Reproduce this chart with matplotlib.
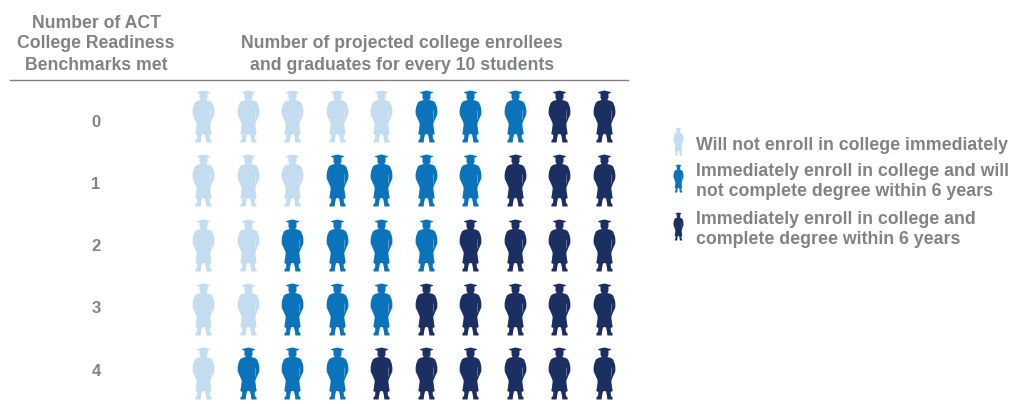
import numpy as np
import matplotlib
matplotlib.use("Agg")
import matplotlib.pyplot as plt
from matplotlib.path import Path

plt.rcParams['font.family'] = ['Liberation Sans', 'DejaVu Sans']

W, H = 1011, 404
benchmarks = ["0", "1", "2", "3", "4"]
not_enrolled = [5, 3, 2, 2, 1]
enrolled_no_degree = [3, 4, 4, 3, 3]
enrolled_degree = [2, 3, 4, 5, 6]
legend_labels = ["Will not enroll in college immediately",
                 "Immediately enroll in college and will\nnot complete degree within 6 years",
                 "Immediately enroll in college and\ncomplete degree within 6 years"]
colors = ["#C3DCEF", "#0A73BB", "#1B2F63"]
grey = "#808285"

# Graduate silhouette: half outline (x, y) with y measured downward from the cap
half = [(0, 0), (6.5, 1.6), (6.3, 2.4), (4.0, 3.2), (4.0, 7.5), (2.8, 9.5), (6.5, 10.5), (8.6, 12),
        (10.2, 16), (10.9, 20), (10.8, 24), (9.0, 28), (7.2, 32), (6.8, 34), (7.6, 40), (8.2, 43.5),
        (6.2, 44.5), (6.4, 48), (8.2, 50.4), (8.0, 52), (2.9, 52), (2.4, 48), (1.5, 44), (0, 43.5)]
right = np.array(half, float)
left = right[-2:0:-1] * [-1, 1]
outline = np.vstack([right, left, right[:1]])


def slit(sign):
    return np.array([(sign * 7.0, 20), (sign * 7.3, 20), (sign * 6.8, 29),
                     (sign * 6.5, 29), (sign * 7.0, 20)])


def graduate(xscale=1.0):
    parts = [outline, slit(1)[::-1], slit(-1)[::-1]]
    verts, codes = [], []
    for p in parts:
        q = (p - [0, 26]) * [xscale, -1]
        verts.extend(q)
        codes.extend([Path.MOVETO] + [Path.LINETO] * (len(q) - 2) + [Path.CLOSEPOLY])
    return Path(np.array(verts), codes)


fig = plt.figure(figsize=(W / 100, H / 100), dpi=100)
canvas = fig.add_axes([0, 0, 1, 1])
canvas.set_xlim(0, W)
canvas.set_ylim(H, 0)
canvas.axis("off")

# Pictograph grid: one axes spanning first/last column and row centres
x0, x1, y0, y1 = 203, 604, 116, 373
grid = fig.add_axes([x0 / W, 1 - y1 / H, (x1 - x0) / W, (y1 - y0) / H])
grid.set_xlim(0, 9)
grid.set_ylim(4, 0)
grid.axis("off")

big = graduate()
px = 72 / fig.dpi
size = (52 * px) ** 2
for row in range(len(benchmarks)):
    counts = [not_enrolled[row], enrolled_no_degree[row], enrolled_degree[row]]
    start = 0
    for n, c in zip(counts, colors):
        cols = np.arange(start, start + n)
        grid.scatter(cols, np.full(n, row), marker=big, s=size, c=c, linewidths=0, clip_on=False)
        start += n

# Headers and rule
head = dict(color=grey, fontweight="bold", fontsize=12.7, ha="center", va="center")
for y, t in zip((24, 44, 65), ("Number of ACT", "College Readiness", "Benchmarks met")):
    canvas.text(96, y, t, **head)
for y, t in zip((44, 65), ("Number of projected college enrollees", "and graduates for every 10 students")):
    canvas.text(402, y, t, **head)
canvas.plot([10, 628], [80, 80], color="#7F7F7F", lw=1.0)

label_y = (122.5, 184.5, 246.5, 308.5, 371.5)
for y, t in zip(label_y, benchmarks):
    canvas.text(96, y, t, color=grey, fontweight="bold", fontsize=12, ha="center", va="center")

# Key
small = graduate(0.85)
for y, c in zip((141, 178, 226), colors):
    canvas.scatter([678], [y], marker=small, s=(28 * px) ** 2, c=c, linewidths=0)
text_y = [(146,), (171, 192), (219, 239)]
for ys, label, in zip(text_y, legend_labels):
    for y, t in zip(ys, label.split("\n")):
        canvas.text(695.5, y, t, color=grey, fontweight="bold", fontsize=12.8, ha="left", va="center")

fig.savefig("out.png", dpi=100)
